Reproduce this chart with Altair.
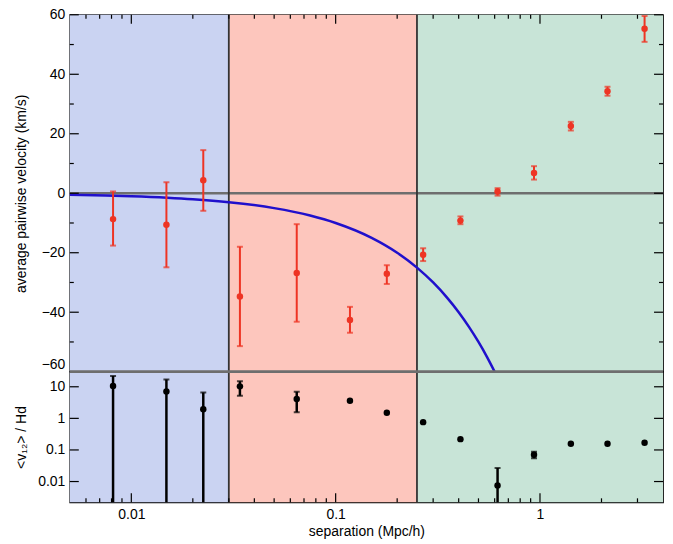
import altair as alt
import pandas as pd

# ---------------- data ----------------
sep = [0.00814, 0.01485, 0.0225, 0.034, 0.0645, 0.1175, 0.178,
       0.268, 0.408, 0.62, 0.935, 1.416, 2.14, 3.25]
vel = [-8.7, -10.6, 4.4, -34.7, -26.8, -42.6, -27.1,
       -20.7, -9.2, 0.6, 6.8, 22.6, 34.3, 55.3]
vel_lo = [-17.6, -24.9, -5.9, -51.4, -43.2, -46.9, -30.5,
          -22.8, -10.4, -0.8, 4.6, 21.1, 32.8, 50.9]
vel_hi = [0.6, 3.7, 14.5, -18.0, -10.4, -38.2, -24.2,
          -18.5, -7.8, 1.7, 9.1, 24.0, 35.8, 59.6]

ratio = [10.5, 7.1, 1.93, 10.3, 4.1, 3.6, 1.5,
         0.76, 0.22, 0.0075, 0.07, 0.158, 0.158, 0.17]
ratio_lo = [1e-6, 1e-6, 1e-6, 5.2, 1.57, None, None,
            None, None, 1e-6, 0.055, None, None, None]
ratio_hi = [22.0, 17.0, 6.6, 15.0, 6.9, None, None,
            None, None, 0.0266, 0.088, None, None, None]

# linear-theory curve
curve_r = [0.005, 0.0075, 0.01, 0.015, 0.02, 0.03, 0.05, 0.075, 0.1, 0.15,
           0.2, 0.25, 0.3, 0.35, 0.4, 0.45, 0.5, 0.55, 0.6]
curve_v = [-0.5, -0.75, -1.0, -1.5, -2.0, -3.0, -5.0, -7.5, -10.0, -15.0,
           -20.0, -25.0, -30.0, -35.0, -40.0, -45.0, -50.0, -55.0, -60.0]

# shaded regions
band_name = ["small", "mid", "large"]
band_lo = [0.005, 0.03, 0.25]
band_hi = [0.03, 0.25, 4.0]
band_color = ["#CAD3F2", "#FDC6BD", "#C8E4D7"]
boundaries = [0.03, 0.25]

# ticks
x_major = [0.01, 0.1, 1]
x_minor = [0.006, 0.007, 0.008, 0.009, 0.02, 0.03, 0.04, 0.05, 0.06, 0.07,
           0.08, 0.09, 0.2, 0.3, 0.4, 0.5, 0.6, 0.7, 0.8, 0.9, 2, 3]
v_major = [-60, -40, -20, 0, 20, 40, 60]
v_minor = [-50, -30, -10, 10, 30, 50]
r_major = [0.01, 0.1, 1, 10]
zero_line = [0]

W = 595
H_TOP = 358
H_BOT = 131
FONT = "Liberation Sans"

XDOM = [0.005, 4.0]
VDOM = [-60, 60]
RDOM = [0.0022, 30]

# ---------------- tables ----------------
pts = pd.DataFrame({"sep": sep, "vel": vel, "vlo": vel_lo, "vhi": vel_hi,
                    "ratio": ratio, "rlo": ratio_lo, "rhi": ratio_hi})
vcaps = pd.DataFrame({"sep": sep * 2, "v": vel_lo + vel_hi})
rcaps = pd.DataFrame({"sep": sep * 2, "r": ratio_lo + ratio_hi}).dropna()
bands = pd.DataFrame({"band": band_name, "lo": band_lo, "hi": band_hi})
curve = pd.DataFrame({"r": curve_r, "v": curve_v})
bnd = pd.DataFrame({"x": boundaries})
xmaj = pd.DataFrame({"x": x_major})
xmin = pd.DataFrame({"x": x_minor})
vmaj = pd.DataFrame({"y": v_major})
vmin = pd.DataFrame({"y": v_minor})
rmaj = pd.DataFrame({"y": r_major})
zer = pd.DataFrame({"y": zero_line})

xs = alt.Scale(type="log", domain=XDOM, nice=False)
vs = alt.Scale(domain=VDOM, nice=False, zero=False)
rs = alt.Scale(type="log", domain=RDOM, nice=False)

band_col = alt.Color("band:N", scale=alt.Scale(domain=band_name, range=band_color), legend=None)

TICK_MAJ = 9
TICK_MIN = 4

x_axis_bottom = alt.Axis(values=x_major, format="~g", title="separation (Mpc/h)",
                         ticks=False, tickSize=0, domain=False, grid=False,
                         labelPadding=5, titlePadding=3)
v_axis = alt.Axis(values=v_major, title="average pairwise velocity (km/s)",
                  ticks=False, tickSize=0, domain=False, grid=False,
                  labelPadding=5, titleX=-48, titleBaseline="middle",
                  labelBaseline={"condition": {"test": "datum.value === -60", "value": "bottom"},
                                 "value": "middle"})
r_axis = alt.Axis(values=r_major, format="~g", title="<v₁₂> / Hd",
                  ticks=False, tickSize=0, domain=False, grid=False,
                  labelPadding=5, titleX=-48, titleBaseline="middle")


def XT(field):
    return alt.X(field, scale=xs, axis=None)


def XB(field):
    return alt.X(field, scale=xs, axis=x_axis_bottom)


def YV(field):
    return alt.Y(field, scale=vs, axis=v_axis)


def YR(field):
    return alt.Y(field, scale=rs, axis=r_axis)


# ---------------- top panel ----------------
t_bands = alt.Chart(bands).mark_rect().encode(x=XT("lo:Q"), x2="hi:Q", color=band_col)
t_zero = alt.Chart(zer).mark_rule(color="#6E6E6E", strokeWidth=2.5).encode(y=YV("y:Q"))
t_bnd = alt.Chart(bnd).mark_rule(color="#333333", strokeWidth=1.8).encode(x=XT("x:Q"))
t_curve = alt.Chart(curve).mark_line(color="#2010CC", strokeWidth=2.5, interpolate="monotone").encode(
    x=XT("r:Q"), y=YV("v:Q"))
t_err = alt.Chart(pts).mark_rule(color="#EE3424", strokeWidth=2).encode(
    x=XT("sep:Q"), y=YV("vlo:Q"), y2="vhi:Q")
t_caps = alt.Chart(vcaps).mark_tick(color="#EE3424", thickness=2, size=6, orient="horizontal").encode(
    x=XT("sep:Q"), y=YV("v:Q"))
t_pts = alt.Chart(pts).mark_circle(color="#EE3424", size=42, opacity=1).encode(
    x=XT("sep:Q"), y=YV("vel:Q"))
t_sep = alt.Chart(zer).mark_rule(color="#6E6E6E", strokeWidth=2.5).encode(
    y=alt.datum(-60, scale=vs, axis=v_axis))
t_xmaj = alt.Chart(xmaj).mark_rule(color="black", strokeWidth=1.2).encode(
    x=XT("x:Q"), y=alt.value(0), y2=alt.value(TICK_MAJ))
t_xmin = alt.Chart(xmin).mark_rule(color="black", strokeWidth=1.2).encode(
    x=XT("x:Q"), y=alt.value(0), y2=alt.value(TICK_MIN))
t_ylmaj = alt.Chart(vmaj).mark_rule(color="black", strokeWidth=1.2).encode(
    y=YV("y:Q"), x=alt.value(0), x2=alt.value(TICK_MAJ))
t_ylmin = alt.Chart(vmin).mark_rule(color="black", strokeWidth=1.2).encode(
    y=YV("y:Q"), x=alt.value(0), x2=alt.value(TICK_MIN))
t_yrmaj = alt.Chart(vmaj).mark_rule(color="black", strokeWidth=1.2).encode(
    y=YV("y:Q"), x=alt.value(W), x2=alt.value(W - TICK_MAJ))
t_yrmin = alt.Chart(vmin).mark_rule(color="black", strokeWidth=1.2).encode(
    y=YV("y:Q"), x=alt.value(W), x2=alt.value(W - TICK_MIN))

top = alt.layer(t_bands, t_zero, t_bnd, t_curve, t_err, t_caps, t_pts, t_sep,
                t_xmaj, t_xmin, t_ylmaj, t_ylmin, t_yrmaj, t_yrmin).properties(
    width=W, height=H_TOP)

# ---------------- bottom panel ----------------
b_bands = alt.Chart(bands).mark_rect().encode(x=XB("lo:Q"), x2="hi:Q", color=band_col)
b_bnd = alt.Chart(bnd).mark_rule(color="#333333", strokeWidth=1.8).encode(x=XB("x:Q"))
b_err = alt.Chart(pts).mark_rule(color="black", strokeWidth=2.5, clip=True).encode(
    x=XB("sep:Q"), y=YR("rlo:Q"), y2="rhi:Q")
b_caps = alt.Chart(rcaps).mark_tick(color="black", thickness=2, size=6, orient="horizontal", clip=True).encode(
    x=XB("sep:Q"), y=YR("r:Q"))
b_pts = alt.Chart(pts).mark_circle(color="black", size=42, opacity=1).encode(
    x=XB("sep:Q"), y=YR("ratio:Q"))
b_sep = alt.Chart(zer).mark_rule(color="#6E6E6E", strokeWidth=2.5).encode(
    y=alt.datum(30, scale=rs, axis=r_axis))
b_xmaj = alt.Chart(xmaj).mark_rule(color="black", strokeWidth=1.2).encode(
    x=XB("x:Q"), y=alt.value(H_BOT), y2=alt.value(H_BOT - TICK_MAJ))
b_xmin = alt.Chart(xmin).mark_rule(color="black", strokeWidth=1.2).encode(
    x=XB("x:Q"), y=alt.value(H_BOT), y2=alt.value(H_BOT - TICK_MIN))
b_ylmaj = alt.Chart(rmaj).mark_rule(color="black", strokeWidth=1.2).encode(
    y=YR("y:Q"), x=alt.value(0), x2=alt.value(TICK_MAJ))
b_yrmaj = alt.Chart(rmaj).mark_rule(color="black", strokeWidth=1.2).encode(
    y=YR("y:Q"), x=alt.value(W), x2=alt.value(W - TICK_MAJ))

bottom = alt.layer(b_bands, b_bnd, b_err, b_caps, b_pts, b_sep,
                   b_xmaj, b_xmin, b_ylmaj, b_yrmaj).properties(
    width=W, height=H_BOT)

chart = alt.vconcat(top, bottom, spacing=0, bounds="flush").properties(
    padding={"left": 6, "top": -2, "right": 0, "bottom": 0}
).configure_view(
    stroke="black", strokeWidth=1.3
).configure_axis(
    labelFont=FONT, labelFontSize=14, labelColor="black",
    titleFont=FONT, titleFontSize=14, titleFontWeight="normal", titleColor="black"
).configure_concat(spacing=0)

chart.save("out.html", embed_options={"renderer": "svg", "actions": False})
